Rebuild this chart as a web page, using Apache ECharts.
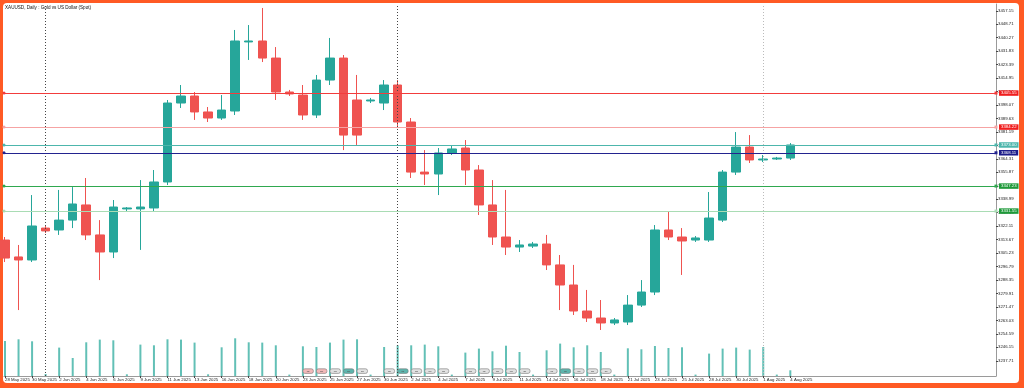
<!DOCTYPE html>
<html><head><meta charset="utf-8">
<script src="https://cdn.jsdelivr.net/npm/echarts@6/dist/echarts.min.js"></script>
<style>
html,body{margin:0;padding:0;background:#fff;}
#frame{position:absolute;left:0;top:0;width:1024px;height:388px;background:#ff5a24;}
#inner{position:absolute;left:3px;top:3px;width:1016px;height:380px;background:#fff;border-radius:4px;}
#c{position:absolute;left:0;top:0;width:1024px;height:388px;}
</style>
</head><body>
<div id="frame"><div id="inner"></div></div>
<div id="c"></div>
<script>
const title = 'XAUUSD, Daily : Gold vs US Dollar (Spot)';
const dates = ['28 May 2025','29 May 2025','30 May 2025','1 Jun 2025','2 Jun 2025','3 Jun 2025','4 Jun 2025','5 Jun 2025','6 Jun 2025','8 Jun 2025',
 '9 Jun 2025','10 Jun 2025','11 Jun 2025','12 Jun 2025','13 Jun 2025','15 Jun 2025','16 Jun 2025','17 Jun 2025','18 Jun 2025','19 Jun 2025',
 '20 Jun 2025','22 Jun 2025','23 Jun 2025','24 Jun 2025','25 Jun 2025','26 Jun 2025','27 Jun 2025','29 Jun 2025','30 Jun 2025','1 Jul 2025',
 '2 Jul 2025','3 Jul 2025','4 Jul 2025','6 Jul 2025','7 Jul 2025','8 Jul 2025','9 Jul 2025','10 Jul 2025','11 Jul 2025','13 Jul 2025',
 '14 Jul 2025','15 Jul 2025','16 Jul 2025','17 Jul 2025','18 Jul 2025','20 Jul 2025','21 Jul 2025','22 Jul 2025','23 Jul 2025','24 Jul 2025',
 '25 Jul 2025','27 Jul 2025','28 Jul 2025','29 Jul 2025','30 Jul 2025','31 Jul 2025','1 Aug 2025','3 Aug 2025','4 Aug 2025'];
const open  = [3313.4,3302.8,3300.9,3320.9,3319.7,3325.9,3335.4,3316.6,3305.9,3332.9,
 3332.9,3333.5,3349.8,3399.3,3403.7,3393.7,3389.9,3394.3,3437.6,3438.2,
 3427.5,3406.2,3404.3,3391.8,3413.7,3427.5,3401.2,3400.6,3399.3,3410.6,
 3387.4,3356.0,3354.8,3368.0,3371.1,3357.3,3335.4,3315.3,3309.0,3309.6,
 3310.9,3297.8,3285.2,3268.9,3264.5,3261.4,3262.0,3272.6,3280.8,3319.7,
 3315.3,3313.4,3313.4,3325.9,3356.0,3371.7,3363.6,3364.2,3364.8];
const close = [3302.1,3300.9,3322.2,3319.1,3325.9,3336.0,3316.6,3305.9,3334.1,3333.5,
 3334.1,3349.8,3399.3,3403.7,3393.7,3389.9,3394.9,3438.2,3438.2,3427.5,
 3406.2,3405.0,3391.8,3413.7,3427.5,3379.2,3379.2,3401.2,3410.6,3387.4,
 3356.0,3354.8,3368.0,3370.5,3357.3,3335.4,3315.3,3309.0,3310.3,3310.9,
 3297.8,3285.2,3268.9,3264.5,3261.4,3263.3,3272.6,3280.8,3319.7,3315.3,
 3312.8,3314.7,3327.2,3356.0,3371.7,3363.6,3364.2,3364.8,3373.0];
const low   = [3299.6,3269.5,3299.6,3317.8,3316.6,3320.9,3313.4,3288.3,3302.1,3331.6,
 3307.2,3331.0,3347.9,3396.2,3388.7,3387.4,3388.7,3391.8,3426.3,3425.0,
 3401.2,3403.7,3388.7,3389.9,3410.6,3369.8,3373.0,3399.3,3394.9,3383.6,
 3352.3,3347.9,3341.6,3366.7,3347.9,3329.1,3310.3,3304.0,3305.9,3308.4,
 3294.6,3269.5,3266.4,3262.0,3257.0,3260.1,3260.1,3271.4,3278.9,3313.4,
 3291.5,3312.2,3312.2,3324.7,3354.2,3361.7,3362.3,3363.6,3363.6];
const high  = [3315.3,3310.3,3341.6,3322.2,3344.8,3346.6,3352.3,3325.9,3338.5,3334.1,
 3351.0,3357.3,3401.2,3410.6,3406.2,3396.8,3404.3,3445.1,3448.2,3458.9,
 3434.4,3407.5,3410.6,3416.9,3440.1,3429.4,3416.9,3402.5,3413.7,3413.7,
 3389.9,3369.8,3371.1,3372.4,3376.1,3360.4,3351.0,3344.8,3313.4,3312.2,
 3316.6,3304.0,3297.8,3282.1,3275.8,3264.5,3278.9,3288.3,3322.8,3331.0,
 3320.9,3315.9,3343.5,3357.3,3381.1,3379.2,3366.7,3365.5,3374.2];
const volume = [140000,146800,138800,8000,113600,72000,134800,145600,142800,6800,
 125600,122800,146800,145600,133600,6800,114800,150800,134800,133600,
 122800,5600,118800,116000,133600,145600,146800,5600,116000,122800,
 122800,125600,118800,5600,93600,109600,98800,121200,96000,5600,
 102800,129600,114800,122800,96000,5600,110800,106800,120000,112000,
 114800,5600,89600,109600,113600,105600,116000,5600,22800];
const priceTicks = [3457.15,3448.71,3440.27,3431.83,3423.39,3414.95,3406.51,3398.07,3389.63,3381.19,
 3372.75,3364.31,3355.87,3347.43,3338.99,3330.55,3322.11,3313.67,3305.23,3296.79,
 3288.35,3279.91,3271.47,3263.03,3254.59,3246.15,3237.71];
const levelValues = [3405.55, 3384.22, 3373.00, 3368.11, 3347.23, 3331.55];
const eventBars  = [22,23,24,25,26,28,29,30,31,32,34,35,36,37,38,40,41,42,43,44];
const eventKinds = ['h','h','m','l','m','m','l','m','m','m','m','m','m','m','m','m','l','m','m','m'];

// ---- styling ----
const UP = '#26a69a', DOWN = '#ef5350';
const levelLine = ['#f23c3c','#f6a3a3','#4db6ac','#23238f','#2fa84f','#a9dcb4'];
const levelBox  = ['#f01e1e','#f01e1e','#4db6ac','#1c1c8a','#1f9a3a','#1f9a3a'];
const eventFill = {h:'#f3b9b9', m:'#e2e2e2', l:'#5db5ad'};
const FONT = 'Liberation Sans, Arial, sans-serif';
const X_MIN = -0.074, X_MAX = 73.19;
const Y_MIN = 3228.15, Y_MAX = 3461.39;

const labelIdx = dates.map((d,i)=>i).filter(i=>i%2===0);
const monthOf = s => s.split(' ')[1];
const sepIdx = dates.map((d,i)=>i).filter(i=>i>0 && monthOf(dates[i])!==monthOf(dates[i-1]));
const sepColor = ['#444','#444','#bbb'];

const chart = echarts.init(document.getElementById('c'), null, {renderer:'canvas'});
chart.setOption({
  animation:false,
  backgroundColor:'transparent',
  textStyle:{fontFamily:FONT},
  grid:[
    {left:4, right:28, top:4, bottom:12},
    {left:4, right:28, top:336, bottom:12}
  ],
  xAxis:[
    {type:'value', gridIndex:0, min:X_MIN, max:X_MAX,
     axisLine:{show:true, onZero:false, lineStyle:{color:'#9a9a9a', width:1}},
     axisTick:{show:true, length:2, customValues:labelIdx, lineStyle:{color:'#444'}},
     axisLabel:{customValues:labelIdx, formatter:v=>dates[v]||'', align:'left', fontSize:4.3, color:'#222', margin:2, fontFamily:FONT},
     splitLine:{show:false}},
    {type:'value', gridIndex:1, min:X_MIN, max:X_MAX, show:false}
  ],
  yAxis:[
    {type:'value', gridIndex:0, position:'right', min:Y_MIN, max:Y_MAX,
     axisLine:{show:true, onZero:false, lineStyle:{color:'#9a9a9a', width:1}},
     axisTick:{show:true, length:2, customValues:priceTicks, lineStyle:{color:'#444'}},
     axisLabel:{customValues:priceTicks, formatter:v=>v.toFixed(2), fontSize:4.3, color:'#222', margin:2, fontFamily:FONT},
     splitLine:{show:false}},
    {type:'value', gridIndex:1, min:0, max:160000, show:false}
  ],
  graphic:[
    {type:'text', left:5, top:5, style:{text:title, fontSize:4.6, fill:'#111', fontFamily:FONT}}
  ],
  series:[
    {type:'bar', xAxisIndex:1, yAxisIndex:1, barWidth:2, z:1,
     itemStyle:{color:'#62c0b6'},
     data: volume.map((v,i)=>[i,v])},
    {type:'scatter', xAxisIndex:0, yAxisIndex:0, data:[], z:1,
     markLine:{silent:true, symbol:'none', animation:false, label:{show:false},
       data: sepIdx.map((i,k)=>({xAxis:i, lineStyle:{color:sepColor[k]||'#444', type:[1,2], width:1}}))}},
    {type:'candlestick', xAxisIndex:0, yAxisIndex:0, barWidth:9, z:3,
     itemStyle:{color:UP, color0:DOWN, borderColor:UP, borderColor0:DOWN, borderWidth:1},
     data: dates.map((d,i)=>[i, open[i], close[i], low[i], high[i]]),
     markLine:{silent:true, animation:false, symbol:['circle','rect'], symbolSize:[3,3], z:10,
       data: levelValues.map((v,k)=>({yAxis:v,
         lineStyle:{color:levelLine[k], width:1, type:'solid'},
         label:{show:true, position:'end', distance:3, formatter:v.toFixed(2), color:'#fff',
                backgroundColor:levelBox[k], fontSize:4.3, padding:[1,2,0.5,2], fontFamily:FONT}}))}},
    {type:'custom', xAxisIndex:0, yAxisIndex:0, z:4,
     data: eventBars.map((b,k)=>[b, k]),
     renderItem:(params, api)=>{
       const p = api.coord([api.value(0), Y_MIN]);
       const kind = eventKinds[api.value(1)];
       return {type:'group', children:[
         {type:'rect', shape:{x:p[0], y:p[1]-7.2, width:10.5, height:4.6, r:2},
          style:{fill:eventFill[kind], stroke:'#777', lineWidth:0.6}},
         {type:'text', style:{text:'▪▪▪', x:p[0]+5.25, y:p[1]-4.9, align:'center', verticalAlign:'middle', fontSize:2.6, fill:'#555'}}
       ]};
     }}
  ]
});
</script>
</body></html>
